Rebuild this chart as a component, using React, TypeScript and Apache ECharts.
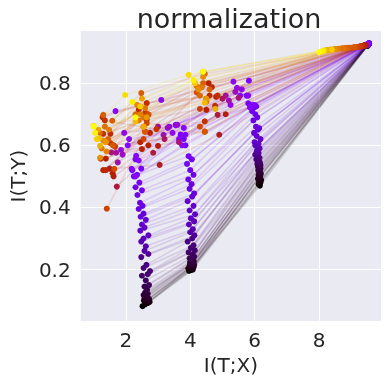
import React, { useEffect, useRef } from "react";
import * as echarts from "echarts";

const TITLE = "normalization";
const X_NAME = "I(T;X)";
const Y_NAME = "I(T;Y)";
const X_TICKS = [2, 4, 6, 8];
const Y_TICKS = [0.2, 0.4, 0.6, 0.8];
const X_MIN = 0.6;
const X_MAX = 9.92;
const Y_MIN = 0.034;
const Y_MAX = 0.968;

// Training progress of each snapshot (0 = first epoch, 1 = last), drives the colour
const EPOCH = [
  0.000, 0.003, 0.006, 0.009, 0.012, 0.015, 0.018, 0.021, 0.024, 0.027, 0.030, 0.033, 0.036, 0.040,
  0.045, 0.050, 0.055, 0.060, 0.065, 0.070, 0.075, 0.080, 0.085, 0.090, 0.100, 0.110,
  0.120, 0.125, 0.130, 0.135, 0.140, 0.145, 0.150, 0.155, 0.160, 0.165, 0.170, 0.175, 0.180, 0.185, 0.190, 0.195, 0.200, 0.205, 0.210, 0.220, 0.230, 0.240,
  0.250, 0.260, 0.270, 0.280, 0.290, 0.300, 0.310, 0.320, 0.340, 0.360, 0.380, 0.400, 0.420, 0.440,
  0.460, 0.480, 0.490, 0.500, 0.510, 0.520, 0.530, 0.540, 0.550, 0.560, 0.570, 0.580, 0.600, 0.620,
  0.640, 0.660, 0.680, 0.700, 0.710, 0.720, 0.730, 0.740, 0.760, 0.770, 0.780, 0.800, 0.810, 0.820, 0.840, 0.860,
  0.880, 0.900, 0.930, 0.950, 0.980, 1.000,
];

// Layer 1
const L1X = [
  9.50, 9.51, 9.50, 9.52, 9.51, 9.50, 9.52, 9.51, 9.52, 9.50, 9.51, 9.52, 9.51, 9.52,
  9.52, 9.53, 9.52, 9.53, 9.52, 9.53, 9.54, 9.53, 9.52, 9.54, 9.53, 9.54,
  9.53, 9.54, 9.52, 9.54, 9.53, 9.55, 9.53, 9.54, 9.52, 9.55, 9.54, 9.53, 9.55, 9.54, 9.53, 9.52, 9.54, 9.53, 9.55, 9.52, 9.54, 9.53,
  9.52, 9.50, 9.51, 9.49, 9.50, 9.48, 9.49, 9.47, 9.48, 9.46, 9.45, 9.46, 9.44, 9.43,
  9.42, 9.40, 9.41, 9.38, 9.36, 9.38, 9.34, 9.35, 9.32, 9.30, 9.33, 9.28, 9.26, 9.24,
  9.20, 9.15, 9.05, 9.10, 8.95, 8.90, 8.80, 8.85, 8.70, 8.75, 8.60, 8.55, 8.45, 8.50, 8.35, 8.25,
  8.30, 8.20, 8.40, 8.15, 8.10, 8.00,
];
const L1Y = [
  0.921, 0.921, 0.922, 0.922, 0.922, 0.923, 0.923, 0.922, 0.923, 0.924, 0.923, 0.924, 0.924, 0.924,
  0.924, 0.925, 0.925, 0.925, 0.926, 0.925, 0.926, 0.926, 0.925, 0.926, 0.926, 0.927,
  0.927, 0.927, 0.926, 0.928, 0.927, 0.928, 0.927, 0.928, 0.926, 0.928, 0.927, 0.927, 0.928, 0.927, 0.926, 0.926, 0.927, 0.927, 0.928, 0.926, 0.927, 0.926,
  0.926, 0.925, 0.925, 0.925, 0.924, 0.924, 0.924, 0.923, 0.924, 0.923, 0.923, 0.923, 0.922, 0.922,
  0.922, 0.921, 0.922, 0.921, 0.920, 0.921, 0.920, 0.920, 0.919, 0.919, 0.920, 0.918, 0.918, 0.917,
  0.917, 0.916, 0.915, 0.916, 0.914, 0.914, 0.913, 0.913, 0.912, 0.912, 0.911, 0.910, 0.909, 0.910, 0.908, 0.907,
  0.907, 0.906, 0.908, 0.905, 0.904, 0.900,
];
// Layer 2
const L2X = [
  6.16, 6.12, 6.18, 6.14, 6.20, 6.10, 6.15, 6.17, 6.12, 6.19, 6.14, 6.16, 6.11, 6.18,
  6.14, 6.10, 6.18, 6.08, 6.16, 6.12, 6.05, 6.15, 6.10, 6.02, 6.12, 6.06,
  6.08, 6.15, 6.02, 6.12, 6.00, 6.18, 6.06, 5.98, 6.10, 6.14, 6.04, 5.96, 6.08, 6.02, 5.92, 5.96, 6.05, 5.88, 6.00, 5.80, 5.82, 5.75,
  5.90, 5.95, 5.80, 5.55, 5.85, 5.34, 5.60, 5.25, 5.45, 5.40, 5.20, 5.10, 5.50, 5.00,
  4.85, 4.90, 5.10, 4.50, 4.45, 4.57, 4.80, 4.67, 4.60, 4.77, 4.85, 4.45, 4.50, 4.35,
  4.30, 4.30, 4.20, 4.45, 4.45, 4.40, 4.60, 4.30, 4.50, 4.20, 4.35, 4.15, 4.40, 4.25, 4.50, 4.40,
  4.78, 4.45, 4.15, 3.95, 4.10, 4.40,
];
const L2Y = [
  0.470, 0.475, 0.480, 0.484, 0.488, 0.492, 0.496, 0.500, 0.504, 0.508, 0.512, 0.516, 0.520, 0.525,
  0.528, 0.532, 0.536, 0.540, 0.545, 0.550, 0.555, 0.560, 0.565, 0.570, 0.575, 0.580,
  0.585, 0.590, 0.600, 0.605, 0.610, 0.620, 0.630, 0.640, 0.650, 0.655, 0.660, 0.680, 0.690, 0.700, 0.710, 0.720, 0.725, 0.728, 0.730, 0.735, 0.808, 0.760,
  0.725, 0.730, 0.760, 0.760, 0.722, 0.805, 0.780, 0.730, 0.785, 0.772, 0.744, 0.760, 0.753, 0.750,
  0.698, 0.634, 0.700, 0.714, 0.644, 0.800, 0.756, 0.787, 0.760, 0.727, 0.760, 0.677, 0.750, 0.787,
  0.717, 0.660, 0.770, 0.644, 0.830, 0.800, 0.780, 0.760, 0.740, 0.790, 0.787, 0.800, 0.820, 0.780, 0.750, 0.837,
  0.717, 0.737, 0.800, 0.827, 0.810, 0.837,
];
// Layer 3
const L3X = [
  3.96, 4.02, 4.08, 3.94, 4.05, 4.10, 4.00, 4.06, 3.98, 4.12, 4.03, 4.08, 3.99, 4.11,
  4.05, 3.98, 4.12, 4.08, 3.95, 4.14, 4.02, 4.10, 3.92, 4.06, 4.13, 4.00,
  4.08, 3.96, 4.12, 4.02, 4.15, 3.98, 4.10, 3.92, 4.06, 4.12, 3.98, 4.04, 3.94, 4.10, 4.00, 3.90, 4.05, 3.95, 3.85, 3.80, 3.70, 3.55,
  3.80, 3.85, 3.65, 3.55, 3.75, 3.10, 3.45, 3.35, 3.60, 3.30, 3.17, 3.00, 3.65, 3.20,
  2.85, 3.05, 3.00, 2.70, 2.45, 2.50, 2.75, 2.60, 2.40, 2.65, 2.65, 2.95, 2.70, 2.60,
  2.55, 2.65, 2.70, 2.60, 2.48, 2.45, 2.55, 2.30, 2.55, 2.40, 2.60, 2.45, 2.35, 2.55, 2.65, 2.50,
  2.55, 2.30, 2.45, 1.98, 2.20, 2.30,
];
const L3Y = [
  0.196, 0.198, 0.200, 0.203, 0.205, 0.207, 0.209, 0.211, 0.213, 0.215, 0.218, 0.220, 0.222, 0.226,
  0.230, 0.236, 0.242, 0.248, 0.255, 0.262, 0.270, 0.278, 0.290, 0.300, 0.310, 0.320,
  0.330, 0.345, 0.355, 0.365, 0.378, 0.390, 0.405, 0.420, 0.435, 0.445, 0.460, 0.475, 0.490, 0.505, 0.520, 0.540, 0.555, 0.565, 0.600, 0.620, 0.635, 0.665,
  0.656, 0.634, 0.620, 0.666, 0.600, 0.746, 0.640, 0.660, 0.666, 0.656, 0.634, 0.660, 0.610, 0.620,
  0.576, 0.537, 0.598, 0.600, 0.610, 0.588, 0.640, 0.644, 0.714, 0.682, 0.736, 0.652, 0.698, 0.705,
  0.620, 0.671, 0.700, 0.644, 0.768, 0.725, 0.660, 0.700, 0.690, 0.680, 0.720, 0.700, 0.730, 0.660, 0.690, 0.750,
  0.660, 0.677, 0.725, 0.762, 0.740, 0.690,
];
// Layer 4
const L4X = [
  2.52, 2.60, 2.68, 2.74, 2.56, 2.64, 2.70, 2.58, 2.66, 2.72, 2.62, 2.55, 2.68, 2.60,
  2.66, 2.58, 2.72, 2.62, 2.50, 2.68, 2.75, 2.55, 2.64, 2.48, 2.70, 2.58,
  2.62, 2.48, 2.55, 2.70, 2.45, 2.58, 2.50, 2.62, 2.46, 2.55, 2.40, 2.52, 2.44, 2.36, 2.50, 2.30, 2.42, 2.25, 2.35, 2.20, 2.48, 2.30,
  2.32, 2.18, 2.40, 2.06, 2.30, 1.68, 2.10, 1.95, 1.85, 1.90, 1.75, 1.70, 1.55, 1.62,
  1.72, 1.50, 1.62, 1.59, 1.38, 1.22, 1.30, 1.38, 1.52, 1.30, 1.28, 1.35, 1.52, 1.67,
  1.41, 1.64, 1.40, 1.60, 1.58, 1.30, 1.45, 1.20, 1.35, 1.25, 1.48, 1.40, 1.30, 1.20, 1.38, 1.15,
  1.20, 1.18, 1.10, 1.00, 1.05, 1.00,
];
const L4Y = [
  0.082, 0.088, 0.092, 0.096, 0.100, 0.098, 0.104, 0.108, 0.112, 0.106, 0.115, 0.118, 0.122, 0.126,
  0.135, 0.145, 0.150, 0.165, 0.180, 0.185, 0.195, 0.205, 0.215, 0.240, 0.250, 0.260,
  0.275, 0.290, 0.300, 0.310, 0.325, 0.335, 0.345, 0.360, 0.370, 0.380, 0.395, 0.405, 0.415, 0.440, 0.455, 0.465, 0.480, 0.500, 0.505, 0.520, 0.525, 0.555,
  0.566, 0.524, 0.551, 0.600, 0.500, 0.710, 0.620, 0.640, 0.585, 0.570, 0.545, 0.576, 0.577, 0.600,
  0.467, 0.525, 0.500, 0.510, 0.557, 0.557, 0.520, 0.520, 0.637, 0.637, 0.690, 0.680, 0.607, 0.595,
  0.396, 0.524, 0.612, 0.600, 0.679, 0.698, 0.620, 0.640, 0.660, 0.590, 0.650, 0.580, 0.615, 0.560, 0.610, 0.650,
  0.598, 0.623, 0.620, 0.663, 0.640, 0.660,
];

function gnuplot(t: number): string {
  const r = Math.sqrt(t);
  const g = Math.pow(t, 3);
  const b = Math.max(0, Math.sin(2 * Math.PI * t));
  const c = (v: number) => Math.round(Math.min(1, Math.max(0, v)) * 255);
  return `rgb(${c(r)},${c(g)},${c(b)})`;
}

const FONT = "DejaVu Sans";
const TEXT = "#262626";

export default function App() {
  const ref = useRef<HTMLDivElement>(null);
  useEffect(() => {
    if (!ref.current) return;
    const chart = echarts.init(ref.current, undefined, { renderer: "svg" });
    const series: any[] = [];
    for (let i = 0; i < EPOCH.length; i++) {
      const color = gnuplot(EPOCH[i]);
      series.push({
        type: "line",
        data: [
          [L1X[i], L1Y[i]],
          [L2X[i], L2Y[i]],
          [L3X[i], L3Y[i]],
          [L4X[i], L4Y[i]],
        ],
        symbol: "circle",
        symbolSize: 6,
        showSymbol: true,
        silent: true,
        lineStyle: { color, width: 1.6, opacity: 0.13 },
        itemStyle: { color, opacity: 1, borderWidth: 0 },
        emphasis: { disabled: true },
      });
    }
    chart.setOption({
      animation: false,
      title: {
        text: TITLE,
        left: 224,
        top: 0,
        textAlign: "center",
        textStyle: { fontFamily: FONT, fontSize: 27, fontWeight: "normal", color: TEXT },
      },
      grid: {
        left: 68,
        right: 8,
        top: 31,
        bottom: 57,
        show: true,
        backgroundColor: "#eaeaf2",
        borderWidth: 0,
      },
      xAxis: {
        type: "value",
        min: X_MIN,
        max: X_MAX,
        name: X_NAME,
        nameLocation: "middle",
        nameGap: 31,
        nameTextStyle: { fontFamily: FONT, fontSize: 20, color: TEXT },
        axisLine: { show: false },
        axisTick: { show: false, customValues: X_TICKS },
        axisLabel: {
          customValues: X_TICKS,
          fontFamily: FONT,
          fontSize: 20,
          color: TEXT,
          margin: 9,
        },
        splitLine: { show: true, lineStyle: { color: "#ffffff", width: 1 } },
      },
      yAxis: {
        type: "value",
        min: Y_MIN,
        max: Y_MAX,
        name: Y_NAME,
        nameLocation: "middle",
        nameGap: 44,
        nameTextStyle: { fontFamily: FONT, fontSize: 20, color: TEXT },
        axisLine: { show: false },
        axisTick: { show: false, customValues: Y_TICKS },
        axisLabel: {
          customValues: Y_TICKS,
          fontFamily: FONT,
          fontSize: 20,
          color: TEXT,
          margin: 10,
          formatter: (v: number) => v.toFixed(1),
        },
        splitLine: { show: true, lineStyle: { color: "#ffffff", width: 1 } },
      },
      series,
    });
    return () => chart.dispose();
  }, []);
  return (
    <div
      ref={ref}
      style={{ position: "fixed", left: 0, top: 0, width: 389, height: 380 }}
    />
  );
}
